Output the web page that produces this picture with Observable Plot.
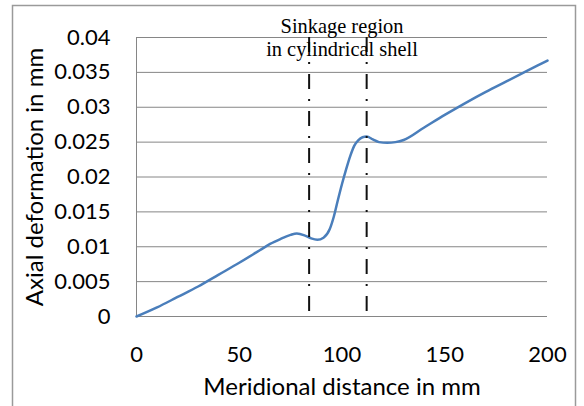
<!DOCTYPE html>
<html>
<head>
<meta charset="utf-8">
<script src="https://cdn.jsdelivr.net/npm/d3@7"></script>
<script src="https://cdn.jsdelivr.net/npm/@observablehq/plot@0.6"></script>
<style>
  html, body { margin: 0; padding: 0; background: #fff; overflow: hidden; }
</style>
</head>
<body>
<div id="chart"></div>
<script>
const distance = [0, 10, 20, 30, 40, 50, 60, 65, 70, 75, 78, 82, 85, 88, 91, 94, 96, 98, 100, 102, 104, 106, 108, 110, 112, 115, 118, 122, 126, 130, 140, 150, 160, 170, 180, 190, 200];
const deformation = [0, 0.0013, 0.0028, 0.0043, 0.0060, 0.0077, 0.0095, 0.0104, 0.0111, 0.0117, 0.0119, 0.0116, 0.0112, 0.0110, 0.0113, 0.0125, 0.0143, 0.0167, 0.0190, 0.0211, 0.0230, 0.0245, 0.0253, 0.0257, 0.0258, 0.0254, 0.0250, 0.0249, 0.0250, 0.0253, 0.0271, 0.0289, 0.0306, 0.0322, 0.0337, 0.0352, 0.0367];
const xTicks = [0, 50, 100, 150, 200];
const yTicks = [0, 0.005, 0.01, 0.015, 0.02, 0.025, 0.03, 0.035, 0.04];
const sinkageBounds = [84, 112];
const annotationLines = ["Sinkage region", "in cylindrical shell"];
const annotationX = [100];
const xTitle = ["Meridional distance in mm"];
const yTitle = ["Axial deformation in mm"];

const data = distance.map((d, i) => ({x: d, y: deformation[i]}));

const chart = Plot.plot({
  width: 584,
  height: 406,
  marginLeft: 136,
  marginRight: 37,
  marginTop: 37,
  marginBottom: 90,
  x: {domain: [0, 200]},
  y: {domain: [0, 0.04]},
  style: {fontFamily: "Lato", fontSize: "22px", background: "white", color: "black"},
  marks: [
    Plot.frame({insetLeft: -124, insetTop: -32, insetRight: -28, insetBottom: -110, stroke: "#9a9a9a", strokeWidth: 1.5}),
    Plot.gridY(yTicks, {stroke: "#868686", strokeOpacity: 1, strokeWidth: 1}),
    Plot.ruleX([0], {stroke: "#868686", strokeWidth: 1}),
    Plot.axisY(yTicks, {tickSize: 0, tickPadding: 26, label: null, tickFormat: d => String(d), fill: "black"}),
    Plot.axisX(xTicks, {tickSize: 0, tickPadding: 30, label: null, tickFormat: d => String(d), fill: "black"}),
    Plot.line(data, {x: "x", y: "y", curve: "monotone-x", stroke: "#4a7ebb", strokeWidth: 2.5}),
    Plot.ruleX(sinkageBounds, {y1: 0.04, y2: 0, stroke: "#111", strokeWidth: 2, strokeDasharray: "15,10,2,10"}),
    Plot.text(annotationX, {x: d => d, y: 0.04, text: () => annotationLines.join("\n"), lineAnchor: "bottom", dy: 18.3, lineHeight: 1.14, fontFamily: "Liberation Serif", fontSize: 20.4, fill: "black"}),
    Plot.text(xTitle, {text: d => d, frameAnchor: "bottom", textAnchor: "middle", dy: 78, lineAnchor: "bottom", fontSize: 24, fill: "black"}),
    Plot.text(yTitle, {text: d => d, frameAnchor: "left", textAnchor: "middle", rotate: -90, dx: -94, lineAnchor: "bottom", fontSize: 24, fill: "black"})
  ]
});
document.getElementById("chart").appendChild(chart);
</script>
</body>
</html>
